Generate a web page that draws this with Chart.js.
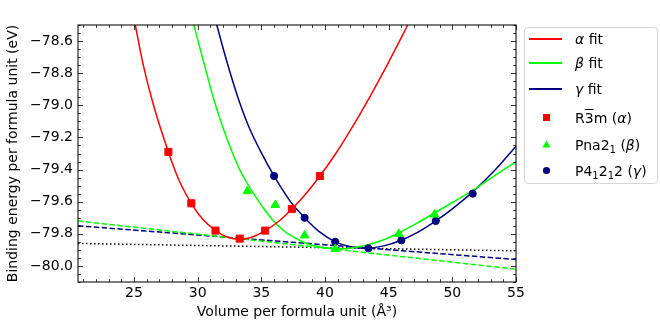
<!DOCTYPE html>
<html><head><meta charset="utf-8">
<script src="https://cdn.jsdelivr.net/npm/chart.js@4"></script>
<style>
html,body{margin:0;padding:0;background:#fff;}
#wrap{position:relative;width:660px;height:323px;overflow:hidden;font-family:'DejaVu Sans',sans-serif;font-size:14px;color:#000;}
#c{position:absolute;left:0;top:0;}
#legbox{position:absolute;left:524px;top:27px;width:134px;height:157px;border:1px solid #d6d6d6;border-radius:4px;box-sizing:border-box;background:#fff;}
.row{position:absolute;left:0;width:660px;height:20px;line-height:20px;white-space:nowrap;}
.txt{position:absolute;left:575px;top:0;}
.ln{position:absolute;left:529px;width:33px;height:1.5px;top:9.25px;}
.mk{position:absolute;left:540px;top:3px;}
sub{font-size:10px;vertical-align:-3px;line-height:0;}
.ov{text-decoration:overline;}
</style>
</head><body>
<div id="wrap">
<canvas id="c" width="660" height="323"></canvas>
<div id="legbox"></div>
<div id="legend"></div>
</div>
<script>
// ---- data ----
const xTicks = [25, 30, 35, 40, 45, 50, 55];
const yTicks = [-80.0, -79.8, -79.6, -79.4, -79.2, -79.0, -78.8, -78.6];

// computed points
const alphaVol = [27.7, 29.5, 31.4, 33.3, 35.3, 37.4, 39.6];
const alphaE   = [-79.29, -79.61, -79.78, -79.83, -79.78, -79.645, -79.44];
const betaVol  = [33.9, 36.1, 38.4, 40.8, 45.8, 48.6];
const betaE    = [-79.535, -79.62, -79.81, -79.895, -79.80, -79.68];
const gammaVol = [36.0, 38.4, 40.8, 43.4, 46.0, 48.7, 51.6];
const gammaE   = [-79.44, -79.70, -79.85, -79.89, -79.84, -79.72, -79.55];

// fitted curves
const alphaFitVol = [25.1, 25.7, 26.5, 27.7, 28.5, 29.5, 30.4, 31.4, 32.3, 33.3, 34.3, 35.3, 36.4, 37.4, 38.5, 39.6, 40.9, 42.0, 43.5, 45.0, 46.5];
const alphaFitE   = [-78.50, -78.74, -78.99, -79.29, -79.46, -79.61, -79.71, -79.78, -79.82, -79.835, -79.82, -79.78, -79.72, -79.645, -79.55, -79.44, -79.294, -79.155, -78.95, -78.731, -78.50];
const betaFitVol  = [29.7, 30.5, 31.2, 31.9, 32.5, 33.3, 34.0, 34.6, 35.3, 35.9, 36.6, 37.3, 38.0, 38.6, 39.5, 40.5, 41.5, 43.0, 44.5, 45.9, 47.2, 48.5, 50.0, 51.7, 53.3, 55.0];
const betaFitE    = [-78.50, -78.74, -78.945, -79.12, -79.25, -79.40, -79.50, -79.575, -79.655, -79.715, -79.77, -79.81, -79.84, -79.862, -79.88, -79.89, -79.893, -79.875, -79.84, -79.79, -79.735, -79.675, -79.605, -79.525, -79.44, -79.35];
const gammaFitVol = [31.5, 32.3, 33.2, 34.0, 34.9, 36.0, 37.2, 38.4, 39.6, 40.8, 42.0, 43.3, 44.6, 46.0, 47.3, 48.7, 50.1, 51.6, 53.3, 55.0];
const gammaFitE   = [-78.50, -78.73, -78.96, -79.13, -79.28, -79.44, -79.59, -79.70, -79.79, -79.85, -79.88, -79.89, -79.875, -79.84, -79.79, -79.72, -79.638, -79.539, -79.408, -79.255];

// straight reference lines
const lineVol   = [20.6, 55.0];
const betaTanE  = [-79.72, -80.02];
const gammaTanE = [-79.75, -79.96];
const dotE      = [-79.86, -79.906];

const RED = '#ff0000', GREEN = '#00ff00', NAVY = '#000080';
const pts = (xs, ys) => xs.map((x, i) => ({x: x, y: ys[i]}));

Chart.defaults.font.family = "'DejaVu Sans', sans-serif";
Chart.defaults.font.size = 14;
Chart.defaults.color = '#000';

const minus = s => String(s).replace('-', '\u2212');

const tickPlugin = {
  id: 'inTicks',
  afterDraw(chart) {
    const ctx = chart.ctx, a = chart.chartArea;
    const xs = chart.scales.x, ys = chart.scales.y;
    ctx.save();
    ctx.strokeStyle = '#000';
    ctx.lineWidth = 0.8;
    for (let v = 21; v <= 55; v++) {
      const p = Math.round(xs.getPixelForValue(v)) + 0.5;
      const len = (v % 5 === 0) ? 5 : 2.8;
      ctx.beginPath();
      ctx.moveTo(p, a.bottom); ctx.lineTo(p, a.bottom - len);
      ctx.moveTo(p, a.top); ctx.lineTo(p, a.top + len);
      ctx.stroke();
    }
    for (let k = -1602; k <= -1570; k++) {
      const v = k * 0.05;
      if (v < ys.min - 1e-9 || v > ys.max + 1e-9) continue;
      const p = Math.round(ys.getPixelForValue(v)) + 0.5;
      const major = (Math.abs(k) % 4 === 0);
      const len = major ? 5 : 2.8;
      ctx.beginPath();
      ctx.moveTo(a.left, p); ctx.lineTo(a.left + len, p);
      ctx.moveTo(a.right, p); ctx.lineTo(a.right - len, p);
      ctx.stroke();
    }
    ctx.lineWidth = 1.1;
    ctx.strokeStyle = '#111';
    ctx.strokeRect(a.left, a.top, a.right - a.left, a.bottom - a.top);
    ctx.restore();
  }
};

new Chart(document.getElementById('c'), {
  type: 'line',
  data: {
    datasets: [
      {label: 'R3m (α)', data: pts(alphaVol, alphaE), showLine: false, pointStyle: 'rect', pointRadius: 5, backgroundColor: RED, borderColor: RED, pointBorderWidth: 1, order: 0},
      {label: 'Pna21 (β)', data: pts(betaVol, betaE), showLine: false, pointStyle: 'triangle', pointRadius: 5, backgroundColor: GREEN, borderColor: GREEN, pointBorderWidth: 1, order: 0},
      {label: 'P41212 (γ)', data: pts(gammaVol, gammaE), showLine: false, pointStyle: 'circle', pointRadius: 3.6, backgroundColor: NAVY, borderColor: NAVY, pointBorderWidth: 1, order: 0},
      {label: 'α fit', data: pts(alphaFitVol, alphaFitE), borderColor: RED, borderWidth: 1.5, pointRadius: 0, cubicInterpolationMode: 'monotone', order: 1},
      {label: 'β fit', data: pts(betaFitVol, betaFitE), borderColor: GREEN, borderWidth: 1.5, pointRadius: 0, cubicInterpolationMode: 'monotone', order: 1},
      {label: 'γ fit', data: pts(gammaFitVol, gammaFitE), borderColor: NAVY, borderWidth: 1.5, pointRadius: 0, cubicInterpolationMode: 'monotone', order: 1},
      {label: 'β tangent', data: pts(lineVol, betaTanE), borderColor: GREEN, borderWidth: 1.5, borderDash: [5.5, 2.4], pointRadius: 0, order: 2},
      {label: 'γ tangent', data: pts(lineVol, gammaTanE), borderColor: NAVY, borderWidth: 1.5, borderDash: [5.5, 2.4], pointRadius: 0, order: 2},
      {label: 'reference', data: pts(lineVol, dotE), borderColor: '#000', borderWidth: 1.5, borderDash: [1.5, 2.5], pointRadius: 0, order: 2}
    ]
  },
  options: {
    responsive: false,
    animation: false,
    events: [],
    layout: {padding: {left: 0, right: 144, top: 25, bottom: 0}},
    plugins: {legend: {display: false}, tooltip: {enabled: false}},
    scales: {
      x: {
        type: 'linear', min: 20.6, max: 55,
        grid: {display: false, drawTicks: false},
        border: {display: false},
        afterBuildTicks: s => { s.ticks = xTicks.map(v => ({value: v})); },
        afterFit: s => { s.height = 41; },
        ticks: {padding: 3, color: '#000', font: {size: 14}, callback: v => String(v)},
        title: {display: true, text: 'Volume per formula unit (Å³)', color: '#000', font: {size: 14}, padding: {top: 0, bottom: 2}}
      },
      y: {
        type: 'linear', min: -80.1, max: -78.5,
        grid: {display: false, drawTicks: false},
        border: {display: false},
        afterBuildTicks: s => { s.ticks = yTicks.map(v => ({value: v})); },
        afterFit: s => { s.width = 78; },
        ticks: {padding: 5, color: '#000', font: {size: 14}, callback: v => minus(Number(v).toFixed(1))},
        title: {display: true, text: 'Binding energy per formula unit (eV)', color: '#000', font: {size: 14}, padding: {top: 5, bottom: 0}}
      }
    }
  },
  plugins: [tickPlugin]
});

// ---- legend (HTML, real text) ----
const legendRows = [
  {y: 39, kind: 'line', color: RED, html: '<i>α</i> fit'},
  {y: 63, kind: 'line', color: GREEN, html: '<i>β</i> fit'},
  {y: 89, kind: 'line', color: NAVY, html: '<i>γ</i> fit'},
  {y: 118, kind: 'rect', color: RED, html: 'R<span class="ov">3</span>m (<i>α</i>)'},
  {y: 145, kind: 'tri', color: GREEN, html: 'Pna2<sub>1</sub> (<i>β</i>)'},
  {y: 171, kind: 'circ', color: NAVY, html: 'P4<sub>1</sub>2<sub>1</sub>2 (<i>γ</i>)'}
];
const leg = document.getElementById('legend');
legendRows.forEach(r => {
  const row = document.createElement('div');
  row.className = 'row';
  row.style.top = (r.y - 10) + 'px';
  let sample = '';
  if (r.kind === 'line') {
    sample = '<div class="ln" style="background:' + r.color + '"></div>';
  } else {
    let shape = '';
    if (r.kind === 'rect') shape = '<rect x="3" y="3" width="7" height="7" fill="' + r.color + '"/>';
    if (r.kind === 'tri') shape = '<polygon points="6.5,2.5 10.5,9.5 2.5,9.5" fill="' + r.color + '"/>';
    if (r.kind === 'circ') shape = '<circle cx="6.5" cy="6.5" r="3.6" fill="' + r.color + '"/>';
    sample = '<svg class="mk" width="13" height="13">' + shape + '</svg>';
  }
  row.innerHTML = sample + '<span class="txt">' + r.html + '</span>';
  leg.appendChild(row);
});
</script>
</body></html>
